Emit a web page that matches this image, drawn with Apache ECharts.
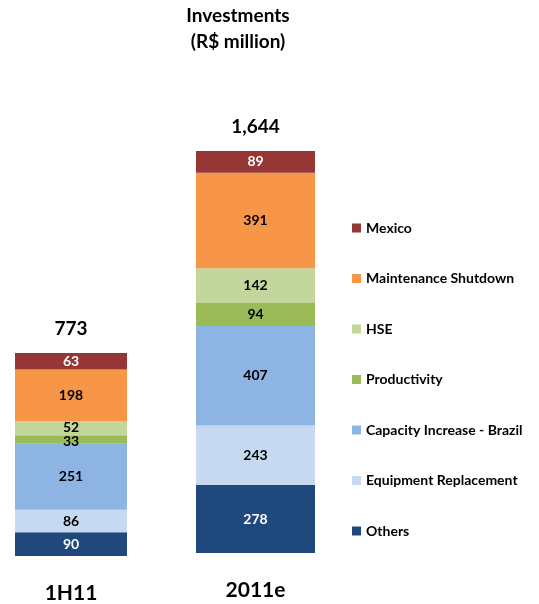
<!DOCTYPE html>
<html><head><meta charset="utf-8">
<script src="https://cdn.jsdelivr.net/npm/echarts@6/dist/echarts.min.js"></script>
<style>html,body{margin:0;padding:0;background:#fff}#c{width:539px;height:604px}</style>
</head><body><div id="c"></div>
<script>
const categories = ['1H11', '2011e'];
const seriesNames = ['Others', 'Equipment Replacement', 'Capacity Increase - Brazil', 'Productivity', 'HSE', 'Maintenance Shutdown', 'Mexico'];
const others = [90, 278];
const equipment = [86, 243];
const capacity = [251, 407];
const productivity = [33, 94];
const hse = [52, 142];
const maintenance = [198, 391];
const mexico = [63, 89];
const totals = [773, 1644];
const colors = ['#1F497D', '#C6D9F1', '#8EB4E3', '#9BBB59', '#C3D69B', '#F79646', '#953735'];
const labelColors = ['#fff', '#000', '#000', '#000', '#000', '#000', '#fff'];
const values = [others, equipment, capacity, productivity, hse, maintenance, mexico];
const FONT = 'Lato';

const chart = echarts.init(document.getElementById('c'));
const series = [];
for (let g = 0; g < 2; g++) {
  seriesNames.forEach((name, i) => {
    series.push({
      name: name, type: 'bar', stack: 's' + g,
      xAxisIndex: g, yAxisIndex: g,
      barWidth: '100%',
      data: [values[i][g]],
      itemStyle: { color: colors[i] },
      label: {
        show: true, position: 'inside', color: labelColors[i],
        fontFamily: FONT, fontWeight: 'bold', fontSize: 14,
        offset: (g === 0 && name === 'HSE') ? [0, -1] : ((g === 0 && name === 'Productivity') ? [0, 2] : [0, 0])
      },
      emphasis: { disabled: true }
    });
  });
  series.push({
    name: 'total' + g, type: 'bar', stack: 's' + g,
    xAxisIndex: g, yAxisIndex: g, barWidth: '100%',
    data: [0],
    itemStyle: { color: 'transparent' },
    label: {
      show: true, position: 'top', distance: 15,
      formatter: () => totals[g].toLocaleString('en-US'),
      color: '#000', fontFamily: FONT, fontWeight: 'bold', fontSize: 19
    },
    emphasis: { disabled: true }
  });
}

chart.setOption({
  animation: false,
  title: {
    text: 'Investments\n(R$ million)', left: 238, textAlign: 'center', top: 3,
    padding: 0,
    textStyle: { fontFamily: FONT, fontWeight: 'bold', fontSize: 19, lineHeight: 26, color: '#000' }
  },
  legend: {
    data: seriesNames.slice().reverse(),
    orient: 'vertical', left: 352, top: 221, padding: 0,
    itemWidth: 9, itemHeight: 9, itemGap: 36.5, icon: 'rect',
    textStyle: { fontFamily: FONT, fontWeight: 'bold', fontSize: 14, color: '#000' },
    selectedMode: false
  },
  grid: [
    { left: 15, width: 112, top: 151, height: 405 },
    { left: 196, width: 119, top: 151, height: 402 }
  ],
  xAxis: [0, 1].map(g => ({
    type: 'category', gridIndex: g, data: [categories[g]],
    axisLine: { show: false }, axisTick: { show: false },
    axisLabel: { margin: 27, color: '#000', fontFamily: FONT, fontWeight: 'bold', fontSize: 21 }
  })),
  yAxis: [0, 1].map(g => ({
    type: 'value', gridIndex: g, min: 0, max: g === 0 ? 1542 : 1644,
    show: false, splitLine: { show: false }
  })),
  series: series
});
</script></body></html>
